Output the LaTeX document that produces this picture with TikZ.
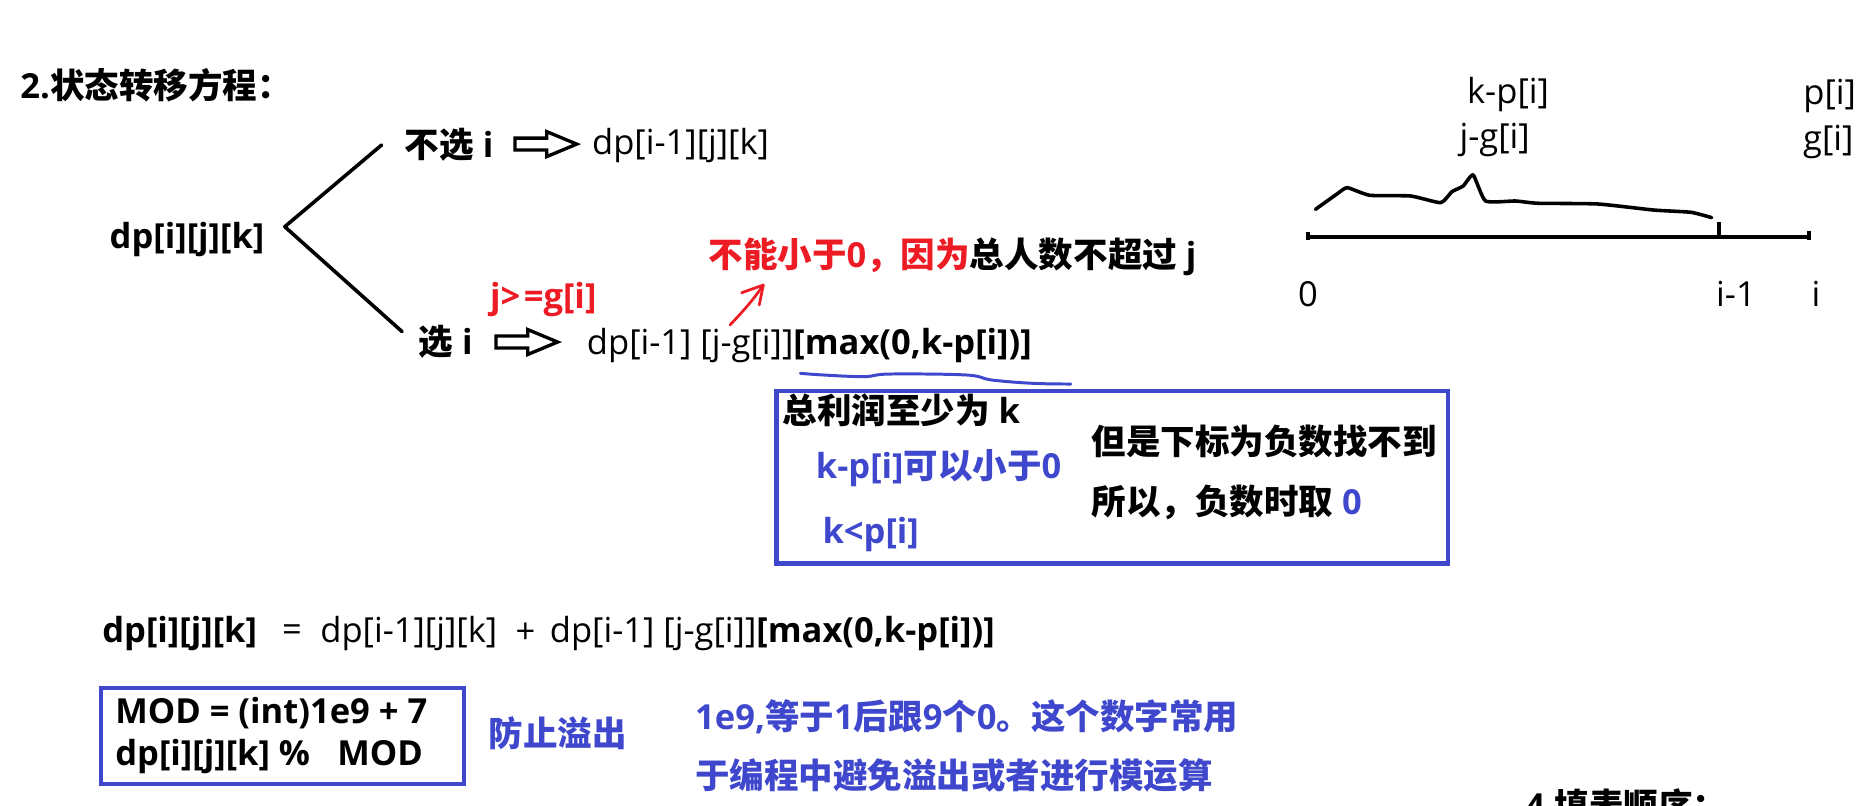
\documentclass[tikz,border=0pt]{standalone}
\usepackage{fontspec}
\setmainfont{Open Sans}
\newfontfamily\zhfont{Noto Sans CJK SC}
\newcommand{\zh}[1]{{\zhfont #1}}
\usetikzlibrary{calc}
\definecolor{myblue}{RGB}{63,72,204}
\definecolor{myred}{RGB}{237,28,36}
\tikzset{
  rt/.style={inner sep=0pt, anchor=west, font=\fontsize{29}{34}\selectfont},
  bt/.style={inner sep=0pt, anchor=west, font=\fontsize{29}{34}\selectfont\bfseries},
  thick line/.style={line width=3pt, line cap=round, line join=round},
  boxline/.style={draw=myblue, line width=3.5pt, inner sep=0pt, anchor=north west},
  harrow/.pic={\draw[line width=2.8pt, line join=miter]
     (0,-5) -- (26.6,-5) -- (26.6,-10.5) -- (51.8,0) -- (26.6,10.5) -- (26.6,5) -- (0,5) -- cycle;}
}
\begin{document}
\begin{tikzpicture}[x=1pt,y=-1pt]
\useasboundingbox (0,0) rectangle (1568,677);
% title
\node[bt] (title) at (17,71.4) {2.\zh{状态转移方程：}};
% fork
\node[bt] (root) at (92,201) {dp[i][j][k]};
\coordinate (fork) at (239.3,190.5);
\coordinate (topend) at (320.7,121.8);
\coordinate (botend) at (337.9,278.7);
\draw[thick line] (topend) -- (fork) -- (botend);
\node[bt] (nsel) at (340,121.8) {\zh{不选} i};
\node[rt] (nres) at (497.4,122.7) {dp[i-1][j][k]};
\pic at (432.8,121.1) {harrow};
\node[bt] (sel) at (351.6,287.1) {\zh{选} i};
\pic at (416.8,287.4) {harrow};
\node[rt] (sres) at (493,290) {dp[i-1] [j-g[i]]\textbf{[max(0,k-p[i])]}};
\node[bt, text=myred] (cond) at (411.6,251.5) {j>\kern3pt=g[i]};
\node[bt] (note) at (595.3,216) {\textcolor{myred}{\zh{不能小于}0\zh{，因为}}\zh{总人数不超过} j};
% red arrow
\coordinate (ra0) at (613.4,273.1);
\coordinate (ra1) at (641.4,239.5);
\draw[myred, line width=2.3pt, line cap=round, line join=round]
  (ra0) .. controls (624,262) and (633,252) .. (ra1);
\draw[myred, line width=2.3pt, line cap=round, line join=round]
  (623.2,246) -- (ra1) -- (638,256.3);
% blue underline
\draw[myblue, line width=2.5pt, line cap=round] plot[smooth, tension=0.6] coordinates
  {(672.5,313.7) (691.8,315.1) (726.1,316.5) (747.6,314.3) (811.9,315.1) (833.3,319.3) (867.6,322.1) (899.8,322.7)};
% box 1
\node[boxline, minimum width=564.6pt, minimum height=144.9pt] (box1) at (650.7,326.8) {};
\node[bt] (b1) at (657.5,345.1) {\zh{总利润至少为} k};
\node[bt, text=myblue] (b2) at (685.4,393.6) {k-p[i]\zh{可以小于}0};
\node[bt, text=myblue] (b3) at (691,448.8) {k<p[i]};
\node[bt] (b4) at (917,371.2) {\zh{但是下标为负数找不到}};
\node[bt] (b5) at (917,422.1) {\zh{所以，负数时取} \textcolor{myblue}{0}};
% formula
\node[bt] (f1) at (85.8,532.2) {dp[i][j][k]};
\node[rt] (f2) at (236.9,532.2) {=};
\node[rt] (f3) at (269,532.2) {dp[i-1][j][k]};
\node[rt] (f4) at (433,532.2) {+};
\node[rt] (f5) at (461.9,532.2) {dp[i-1] [j-g[i]]\textbf{[max(0,k-p[i])]}};
% box 2
\node[boxline, minimum width=305.2pt, minimum height=80.5pt] (box2) at (83.1,576.6) {};
\node[bt] (m1) at (96.7,598.9) {MOD = (int)1e9 + 7};
\node[bt] (m2) at (96.7,635.9) {dp[i][j][k] \%\hspace{23pt}MOD};
\node[bt, text=myblue] (m3) at (410.5,616.2) {\zh{防止溢出}};
\node[bt, text=myblue] (m4) at (584,602.2) {1e9,\zh{等于}1\zh{后跟}9\zh{个}0\zh{。这个数字常用}};
\node[bt, text=myblue] (m5) at (584,651.3) {\zh{于编程中避免溢出或者进行模运算}};
\node[bt, anchor=base west] (t4) at (1281.5,688) {4.\zh{填表顺序：}};
% right diagram
\coordinate (ax0) at (1099.2,198.9);
\coordinate (ax1) at (1520,198.9);
\coordinate (axm) at (1444.6,198.9);
\draw[line width=3.5pt] (ax0) -- (ax1);
\draw[line width=3pt] ($(ax0)+(0,-4)$) -- ($(ax0)+(0,2.5)$);
\draw[line width=3pt] ($(ax1)+(0,-4.5)$) -- ($(ax1)+(0,2.5)$);
\draw[line width=3pt] ($(axm)+(0,-12)$) -- ($(axm)+(0,2)$);
\draw[thick line] plot[smooth, tension=0.3] coordinates
  {(1105.4,175.9) (1124.3,162.4) (1132.1,157.7) (1151,164.1) (1185.5,164.7) (1210.6,170.3)
   (1220,161.1) (1229.5,156.3) (1237.9,147.0) (1248.3,168.9) (1273.4,168.9) (1292.3,170.8)
   (1342.5,171.4) (1389.6,176.5) (1421,178.4) (1438.3,182.9)};
\node[rt, anchor=center] (l0) at (1099,247) {0};
\node[rt, anchor=center] (l1) at (1458.7,247) {i-1};
\node[rt, anchor=center] (l2) at (1526,247) {i};
\node[rt] (lk) at (1232.6,79.8) {k-p[i]};
\node[rt] (lj) at (1226.3,117.6) {j-g[i]};
\node[rt] (lp) at (1515.2,80.4) {p[i]};
\node[rt] (lg) at (1515,119) {g[i]};
\end{tikzpicture}
\end{document}
